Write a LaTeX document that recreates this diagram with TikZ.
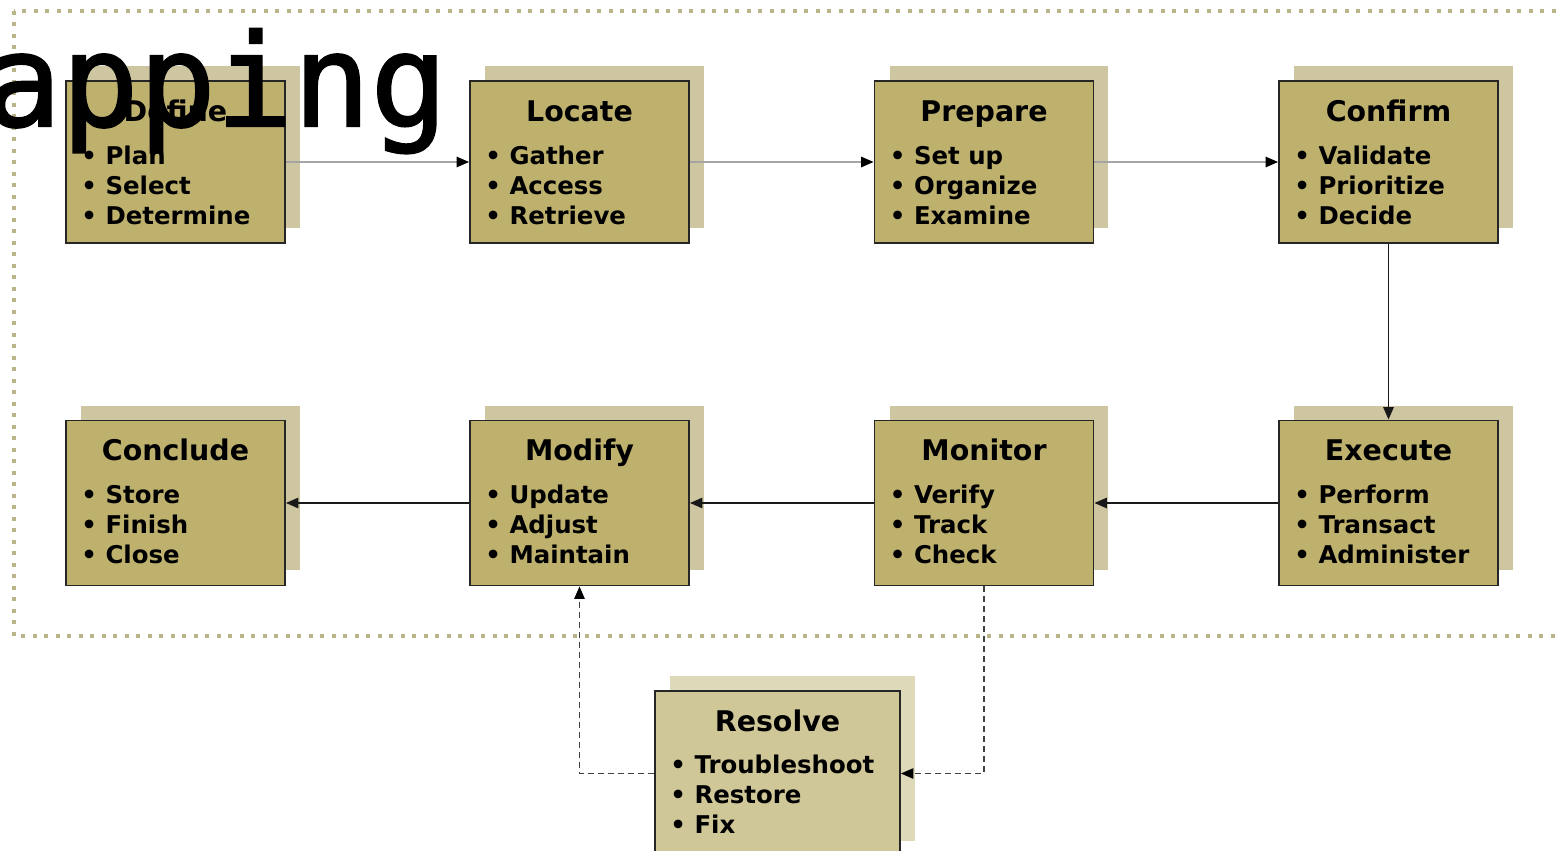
\documentclass[tikz,border=0pt]{standalone}
\usepackage{fontspec}
\setsansfont{DejaVu Sans}
\newfontfamily\monofont[FakeBold=1.6]{DejaVu Sans Mono}
\usetikzlibrary{calc,shadows,arrows.meta}

\definecolor{boxtan}{RGB}{190,177,110}
\definecolor{shadetan}{RGB}{205,198,160}
\definecolor{lighttan}{RGB}{207,199,152}
\definecolor{lightshade}{RGB}{222,217,184}
\definecolor{dotframe}{RGB}{186,181,136}
\definecolor{thinline}{RGB}{165,165,165}

\tikzset{
  stepbox/.style={draw=black!85, line width=1.1pt, fill=boxtan,
    minimum width=4.38cm, minimum height=3.24cm, inner sep=0pt,
    general shadow={shadow xshift=0.3cm, shadow yshift=0.3cm, fill=shadetan, draw=none}},
  lowbox/.style={stepbox, minimum height=3.3cm},
  fixbox/.style={stepbox, minimum width=4.9cm, minimum height=3.3cm, fill=lighttan,
    general shadow={shadow xshift=0.3cm, shadow yshift=0.3cm, fill=lightshade, draw=none}},
  boxtitle/.style={anchor=base, inner sep=0pt, font=\sffamily\bfseries\fontsize{16.2pt}{19pt}\selectfont},
  % base of a multi-line node is its last line
  boxitems/.style={anchor=base west, inner sep=0pt, align=left,
    font=\sffamily\bfseries\fontsize{13.9pt}{17.05pt}\selectfont},
  flowgray/.style={draw=thinline, line width=0.8pt, -{Triangle[length=0.25cm,width=0.21cm,fill=black,color=black]}},
  flow/.style={draw=black!90, line width=0.8pt, -{Triangle[length=0.25cm,width=0.21cm]}},
  flowdash/.style={draw=black!75, line width=0.7pt, dash pattern=on 0.12cm off 0.08cm,
    -{Triangle[length=0.25cm,width=0.21cm,color=black]}}
}

\begin{document}
\begin{tikzpicture}[x=0.02cm, y=-0.02cm]
    \useasboundingbox (0,0) rectangle (1562,851);

    % dotted frame round the main cycle
    \draw[dotframe, line width=0.08cm, dash pattern=on 0.08cm off 0.15cm] (14,11) rectangle (1620,636);

    % top row
    \node[stepbox] (def) at (175.5,162) {};
    \node[boxtitle] at ([shift={(0,41)}]def.north) {Define};
    \node[boxitems] at ([shift={(16,144)}]def.north west) {• Plan\\• Select\\• Determine};

    \node[stepbox] (loc) at (579.5,162) {};
    \node[boxtitle] at ([shift={(0,41)}]loc.north) {Locate};
    \node[boxitems] at ([shift={(16,144)}]loc.north west) {• Gather\\• Access\\• Retrieve};

    \node[stepbox] (prep) at (984,162) {};
    \node[boxtitle] at ([shift={(0,41)}]prep.north) {Prepare};
    \node[boxitems] at ([shift={(16,144)}]prep.north west) {• Set up\\• Organize\\• Examine};

    \node[stepbox] (conf) at (1388.5,162) {};
    \node[boxtitle] at ([shift={(0,41)}]conf.north) {Confirm};
    \node[boxitems] at ([shift={(16,144)}]conf.north west) {• Validate\\• Prioritize\\• Decide};

    % bottom row
    \node[lowbox] (exe) at (1388.5,503) {};
    \node[boxtitle] at ([shift={(0,41)}]exe.north) {Execute};
    \node[boxitems] at ([shift={(16,144)}]exe.north west) {• Perform\\• Transact\\• Administer};

    \node[lowbox] (mon) at (984,503) {};
    \node[boxtitle] at ([shift={(0,41)}]mon.north) {Monitor};
    \node[boxitems] at ([shift={(16,144)}]mon.north west) {• Verify\\• Track\\• Check};

    \node[lowbox] (mod) at (579.5,503) {};
    \node[boxtitle] at ([shift={(0,41)}]mod.north) {Modify};
    \node[boxitems] at ([shift={(16,144)}]mod.north west) {• Update\\• Adjust\\• Maintain};

    \node[lowbox] (concl) at (175.5,503) {};
    \node[boxtitle] at ([shift={(0,41)}]concl.north) {Conclude};
    \node[boxitems] at ([shift={(16,144)}]concl.north west) {• Store\\• Finish\\• Close};

    % side loop
    \node[fixbox] (res) at (777.5,773.5) {};
    \node[boxtitle] at ([shift={(0,41)}]res.north) {Resolve};
    \node[boxitems] at ([shift={(16,143)}]res.north west) {• Troubleshoot\\• Restore\\• Fix};

    % connectors
    \draw[flowgray] (def) -- (loc);
    \draw[flowgray] (loc) -- (prep);
    \draw[flowgray] (prep) -- (conf);
    \draw[flow] (conf) -- (exe);
    \draw[flow] (exe) -- (mon);
    \draw[flow] (mon) -- (mod);
    \draw[flow] (mod) -- (concl);
    \draw[flowdash] (mon) |- (res);
    \draw[flowdash] (res) -| (mod);

    \node[anchor=base west, inner sep=0pt, font=\monofont\fontsize{73pt}{80pt}\selectfont] (cut) at (-16,126) {apping};
\end{tikzpicture}
\end{document}
